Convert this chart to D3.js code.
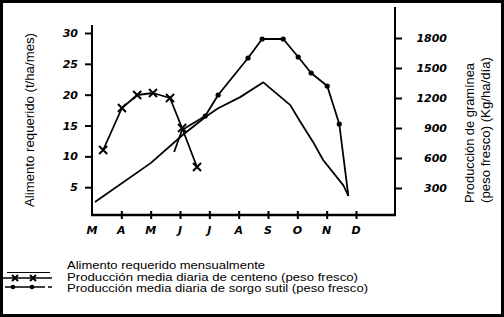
<!DOCTYPE html>
<html>
<head>
<meta charset="utf-8">
<title>Alimento requerido y producción de gramínea</title>
<script src="https://cdn.jsdelivr.net/npm/d3@7"></script>
<style>
body{margin:0;background:#fff;}
svg{display:block;}
.lbl{font-family:"Liberation Sans Narrow","Liberation Sans",Arial,sans-serif;font-size:13px;fill:#000;}
.leg{font-size:11.5px;}
.num{font-family:"DejaVu Sans",sans-serif;font-style:italic;font-weight:bold;font-size:11px;}
</style>
</head>
<body>
<script>
var months=["M","A","M","J","J","A","S","O","N","D"];
var leftTicks=[5,10,15,20,25,30];
var rightTicks=[300,600,900,1200,1500,1800];
// alimento requerido: posición en meses (0 = marzo), t/ha/mes
var alimMes=[0.1,2.0,3.1,3.9,4.3,5.05,5.84,6.76,7.1,7.54,7.88,8.57,8.74];
var alimVal=[2.6,8.9,13.5,16.5,17.8,19.6,22,18.3,15.6,12.3,9.4,5.3,3.6];
// centeno, kg/ha/día
var centMes=[0.38,1.02,1.54,2.08,2.66,3.07,3.58];
var centVal=[680,1100,1230,1250,1200,900,510];
// sorgo sutil, kg/ha/día
var sorgMes=[2.8,3.07,3.86,4.3,5.32,5.8,6.52,7.03,7.47,8.02,8.43,8.74];
var sorgVal=[660,880,1020,1230,1600,1790,1790,1610,1450,1320,940,220];
var sorgDots=[2,3,4,5,6,7,8,9,10];
var legendText=["Alimento requerido mensualmente",
  "Producción media diaria de centeno (peso fresco)",
  "Producción media diaria de sorgo sutil (peso fresco)"];
var legendLen=[198,291,301];

var W=504,H=317;
var svg=d3.select("body").append("svg").attr("width",W).attr("height",H);
svg.append("rect").attr("x",1.5).attr("y",1.5).attr("width",W-3).attr("height",H-3)
  .attr("fill","#fff").attr("stroke","#000").attr("stroke-width",3);

var x=d3.scaleLinear().domain([0,9]).range([92,356]);
var yL=d3.scaleLinear().domain([0,30]).range([218,33]);
var yR=d3.scaleLinear().domain([0,1800]).range([218,38]);
var axisY=215, rightX=395;

// axes lines
svg.append("line").attr("x1",92).attr("x2",92).attr("y1",25).attr("y2",axisY+1)
  .attr("stroke","#000").attr("stroke-width",2);
svg.append("line").attr("x1",rightX).attr("x2",rightX).attr("y1",7).attr("y2",axisY+1)
  .attr("stroke","#000").attr("stroke-width",2);
svg.append("line").attr("x1",91).attr("x2",rightX+1).attr("y1",axisY).attr("y2",axisY)
  .attr("stroke","#000").attr("stroke-width",2.5);

var gl=svg.append("g").attr("transform","translate(92,0)")
  .call(d3.axisLeft(yL).tickValues(leftTicks).tickSize(7).tickPadding(7));
var gr=svg.append("g").attr("transform","translate("+rightX+",0)")
  .call(d3.axisRight(yR).tickValues(rightTicks).tickFormat(d3.format("d")).tickSize(7).tickPadding(16));
var gx=svg.append("g").attr("transform","translate(0,"+axisY+")")
  .call(d3.axisBottom(x).tickValues(d3.range(1,10)).tickSize(4).tickFormat(""));
gx.selectAll(".tick line").attr("y1",-4);
[gl,gr,gx].forEach(function(g){
  g.select(".domain").remove();
  g.selectAll(".tick line").attr("stroke","#000").attr("stroke-width",2);
  g.selectAll("text").attr("class","num").attr("fill","#000");
});
gr.selectAll("text").attr("text-anchor","end").attr("x",52);

svg.append("g").selectAll("text").data(months).join("text")
  .attr("class","num").attr("font-size",12)
  .attr("x",function(d,i){return x(i);}).attr("y",axisY+19)
  .attr("text-anchor","middle").text(function(d){return d;});

// axis titles
svg.append("text").attr("class","lbl")
  .attr("transform","translate(34,207) rotate(-90)")
  .attr("textLength",174).attr("lengthAdjust","spacingAndGlyphs")
  .text("Alimento requerido (t/ha/mes)");
svg.append("text").attr("class","lbl")
  .attr("transform","translate(474,203) rotate(-90)")
  .attr("textLength",140).attr("lengthAdjust","spacingAndGlyphs")
  .text("Producción de gramínea");
svg.append("text").attr("class","lbl")
  .attr("transform","translate(490,203) rotate(-90)")
  .attr("textLength",146).attr("lengthAdjust","spacingAndGlyphs")
  .text("(peso fresco) (Kg/ha/día)");

// series
var alim=alimMes.map(function(m,i){return [x(m),yL(alimVal[i])];});
var cent=centMes.map(function(m,i){return [x(m),yR(centVal[i])];});
var sorg=sorgMes.map(function(m,i){return [x(m),yR(sorgVal[i])];});
var line=d3.line();
[alim,cent,sorg].forEach(function(p){
  svg.append("path").attr("d",line(p)).attr("fill","none")
    .attr("stroke","#000").attr("stroke-width",1.8).attr("stroke-linejoin","round");
});
function cross(g,cx,cy,s){
  g.append("path").attr("d","M"+(cx-s)+","+(cy-s)+"L"+(cx+s)+","+(cy+s)+"M"+(cx-s)+","+(cy+s)+"L"+(cx+s)+","+(cy-s))
    .attr("stroke","#000").attr("stroke-width",2);
}
var mk=svg.append("g");
cent.forEach(function(p){cross(mk,p[0],p[1],4);});
sorgDots.forEach(function(i){
  mk.append("circle").attr("cx",sorg[i][0]).attr("cy",sorg[i][1]).attr("r",2.6).attr("fill","#000");
});

// legend
var legY=[269,280.5,291.5];
var lg=svg.append("g");
lg.selectAll("text").data(legendText).join("text").attr("class","lbl leg")
  .attr("x",67).attr("y",function(d,i){return legY[i];})
  .attr("textLength",function(d,i){return legendLen[i];})
  .attr("lengthAdjust","spacingAndGlyphs").text(function(d){return d;});
lg.append("line").attr("x1",7).attr("x2",50).attr("y1",272.5).attr("y2",272.5)
  .attr("stroke","#000").attr("stroke-width",1);
lg.append("line").attr("x1",3).attr("x2",52).attr("y1",278).attr("y2",278)
  .attr("stroke","#000").attr("stroke-width",1.5);
cross(lg,15,278,3);cross(lg,33,278,3);
lg.append("line").attr("x1",5).attr("x2",52).attr("y1",287).attr("y2",287)
  .attr("stroke","#000").attr("stroke-width",1.5).attr("stroke-dasharray","40,3,4");
lg.append("circle").attr("cx",13).attr("cy",287).attr("r",2.3).attr("fill","#000");
lg.append("circle").attr("cx",32).attr("cy",287).attr("r",2.3).attr("fill","#000");
</script>
</body>
</html>
